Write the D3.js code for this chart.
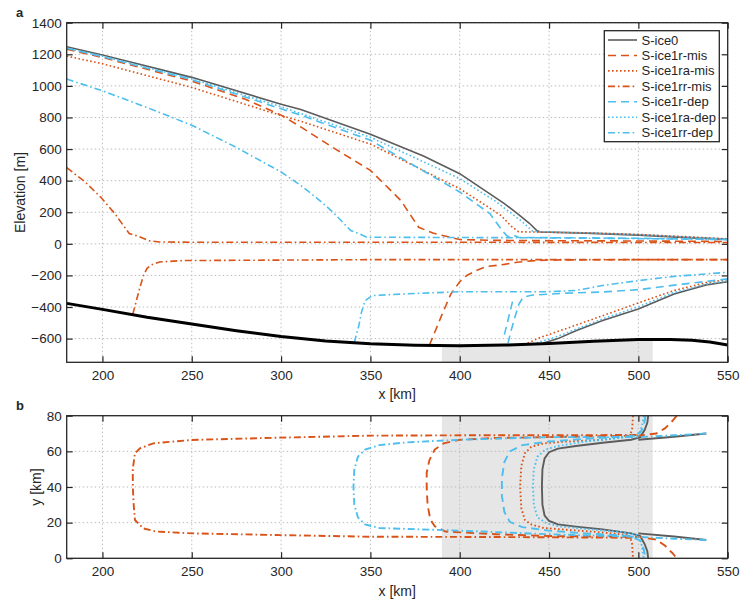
<!DOCTYPE html>
<html><head><meta charset="utf-8">
<script src="https://cdn.jsdelivr.net/npm/d3@7"></script>
<style>body{margin:0;background:#fff} text{font-family:"Liberation Sans",Arial,Helvetica,sans-serif;fill:#262626}</style>
</head><body><svg id="c" width="740" height="603"></svg>
<script>
// ---------- data ----------
const xTicks = [200,250,300,350,400,450,500,550];
const elevTicks = [-600,-400,-200,0,200,400,600,800,1000,1200,1400];
const yTicks = [0,20,40,60,80];
const shadeRange = [390,508];
const seriesNames = ["S-ice0","S-ice1r-mis","S-ice1ra-mis","S-ice1rr-mis","S-ice1r-dep","S-ice1ra-dep","S-ice1rr-dep"];

const bed = [[180,-377],[200,-415],[225,-465],[250,-508],[275,-550],[300,-587],[325,-615],[350,-633],[375,-642],[400,-645],[425,-641],[450,-631],[475,-616],[500,-606],[518,-606],[530,-610],[540,-622],[550,-640]];

// panel a: upper and lower surfaces (x km, elevation m)
const ice0Up = [[180,1248],[200,1195],[250,1054],[300,884],[311,851],[350,694],[380,555],[400,444],[415,330],[425,255],[433,185],[439,130],[443,85],[445,75],[470,68],[500,55],[530,38],[550,28]];
const ice0Lo = [[447,-628],[455,-600],[465,-550],[480,-485],[500,-413],[520,-318],[538,-260],[550,-240]];
const rMisUp = [[180,1232],[200,1180],[250,1030],[280,915],[300,815],[311,740],[330,603],[350,465],[367,275],[377,105],[385,68],[393,46],[400,27],[420,22],[450,20],[500,18],[550,15]];
const rMisLo = [[383,-642],[386,-560],[390,-450],[395,-318],[400,-240],[404,-200],[410,-165],[415,-144],[425,-130],[432,-117],[440,-108],[450,-102],[500,-100],[550,-100]];
const raMisUp = [[180,1189],[200,1140],[250,990],[300,812],[311,776],[350,632],[400,349],[415,240],[423,180],[429,110],[433,76],[470,70],[500,60],[550,32]];
const raMisLo = [[436,-640],[445,-593],[460,-535],[480,-455],[500,-374],[520,-295],[538,-245],[550,-227]];
const rrMisUp = [[180,482],[190,395],[199,296],[207,190],[215,65],[220,48],[226,20],[232,12],[250,10],[400,10],[550,8]];
const rrMisLo = [[217,-445],[219,-360],[221,-275],[223,-200],[225,-155],[228,-130],[232,-115],[245,-106],[350,-100],[550,-100]];
const rDepUp = [[180,1238],[200,1185],[250,1040],[300,855],[311,815],[350,656],[400,328],[417,190],[424,80],[427,45],[430,55],[433,40],[470,38],[500,35],[550,27]];
const rDepLo = [[425,-575],[430,-345],null,[427,-630],[428.5,-560],[431,-460],[433,-385],[435.4,-339],[440,-325],[460,-312],[480,-305],[500,-290],[525,-255],[550,-222]];
const raDepUp = [[180,1240],[200,1188],[250,1045],[300,868],[311,825],[350,675],[400,413],[420,270],[435,140],[441,78],[470,70],[500,58],[550,30]];
const raDepLo = [[443,-628],[455,-585],[480,-475],[500,-398],[520,-308],[538,-255],[550,-235]];
const rrDepUp = [[180,1043],[200,969],[225,863],[250,751],[275,610],[300,455],[311,370],[320,290],[329,201],[339,84],[343,67],[348,42],[400,40],[450,38],[500,33],[550,27]];
const rrDepLo = [[341,-625],[342,-580],[343.5,-519],[345,-434],[347,-360],[351,-328],[367,-318],[400,-303],[450,-303],[465,-295],[482,-260],[500,-233],[520,-206],[550,-180]];

// panel b: grounding lines in plan view (x km, y km)
const ice0Plan = [[505.5,80],[505,76],[503.5,72],[501,68],[496,66.5],[480,64.8],[465,63],[455,61.5],[450,59.5],[447.5,56],[446.3,50],[446,40],[446.3,30],[447.5,24],[450,21],[455,19],[465,17.8],[480,16.2],[496,14],[501,12.5],[503.5,8],[505,4],[505.5,0],null,[500,66.5],[520,68.2],[538,70],null,[500,14],[520,12.2],[538,10.3]];
const rMisPlan = [[521.5,80],[519,77],[515,73],[510,70],[500,68.8],[450,68],[420,67.5],[400,66.5],[391,64.5],[386,61],[383,55],[381.5,48],[381.5,40],[382,30],[383.5,22],[386,18],[392,15],[420,13.5],[450,12.5],[500,12],[510,10.5],[515,7],[519,3],[521.5,0]];
const raMisPlan = [[497,80],[496.5,72],[495,68.5],[480,66.5],[460,65.5],[447,64.5],[440,62.5],[436.5,59],[434.5,52],[433.8,40],[434.5,28],[436.5,21.5],[440,19],[447,17],[460,16],[480,14.5],[495,13],[496.5,8],[497,0]];
const rrMisPlan = [[499,69.2],[450,69],[400,69],[350,68.8],[300,67.7],[250,66.4],[228.5,64.5],[221,61.7],[218.2,58.9],[217,50],[217,40.2],[217.5,30],[218.2,21.5],[222.9,16.8],[230,15],[250,14],[300,13],[350,12.1],[400,12],[450,11.8],[499,11.5]];
const rDepPlan = [[504,80],[503,74],[501,70.5],[495,68.5],[470,67],[450,65.5],[435,63.5],[428,60],[425,54],[423.6,45],[423.6,35],[425,26],[428,20.5],[435,17.5],[450,15.5],[470,14],[495,12.5],[501,10],[503,5],[504,0]];
const raDepPlan = [[503,80],[502,74],[500,69],[490,67.5],[470,65.5],[455,63],[448,61],[443.5,57],[441.5,50],[441,40],[441.5,30],[443.5,23],[448,20],[455,18],[470,16.5],[490,14.8],[500,13],[502,7],[503,0]];
const rrDepPlan = [[538,70],[520,69],[500,68],[450,68],[400,66.5],[370,65],[355,63.5],[347,61],[343,57],[341,50],[340.5,40],[341,30],[343,23],[347,19],[355,17],[370,16.5],[400,15.5],[450,13.5],[500,12],[520,11],[538,10.3]];

// ---------- styles ----------
const GRAY="#5c5c5c", ORANGE="#D95319", BLUE="#4DBEEE";
const DASH="8,5", DOT="1.6,2.4", DASHDOT="7,3,1.6,3";
const styles = [
  {c:GRAY,d:null},{c:ORANGE,d:DASH},{c:ORANGE,d:DOT},{c:ORANGE,d:DASHDOT},
  {c:BLUE,d:DASH},{c:BLUE,d:DOT},{c:BLUE,d:DASHDOT}];
const profA = [[ice0Up,ice0Lo],[rMisUp,rMisLo],[raMisUp,raMisLo],[rrMisUp,rrMisLo],[rDepUp,rDepLo],[raDepUp,raDepLo],[rrDepUp,rrDepLo]];
const planB = [ice0Plan,rMisPlan,raMisPlan,rrMisPlan,rDepPlan,raDepPlan,rrDepPlan];

// ---------- layout ----------
const svg=d3.select('#c');
const L=66.7,R=727.7;
const x=d3.scaleLinear().domain([180,550]).range([L,R]);
const ya=d3.scaleLinear().domain([-750,1400]).range([362.3,22.7]);
const yb=d3.scaleLinear().domain([0,80]).range([558.3,415.7]);
const AX="#262626";
const fmt=d3.format('d');

const defs=svg.append('defs');
function clip(id,x0,y0,w,h){defs.append('clipPath').attr('id',id).append('rect').attr('x',x0).attr('y',y0).attr('width',w).attr('height',h);}
clip('ca',L,ya(1400),R-L,ya(-750)-ya(1400));
clip('cb',L,yb(80),R-L,yb(0)-yb(80));
clip('sh',x(shadeRange[0]),0,x(shadeRange[1])-x(shadeRange[0]),603);

function grid(g,y,yt){
  g.append('g').selectAll('line').data(xTicks).join('line')
   .attr('x1',d=>x(d)).attr('x2',d=>x(d)).attr('y1',y.range()[1]).attr('y2',y.range()[0])
   .attr('stroke','#bdbdbd').attr('stroke-width',1).attr('stroke-dasharray','1.5,2.5');
  g.append('g').selectAll('line').data(yt).join('line')
   .attr('x1',L).attr('x2',R).attr('y1',d=>y(d)).attr('y2',d=>y(d))
   .attr('stroke','#bdbdbd').attr('stroke-width',1).attr('stroke-dasharray','1.5,2.5');
}
function frame(y,yt){
  const top=y.range()[1], bot=y.range()[0];
  const ax1=svg.append('g').attr('transform',`translate(0,${bot})`).call(d3.axisBottom(x).tickValues(xTicks).tickSizeInner(-6).tickSizeOuter(0).tickPadding(8).tickFormat(fmt));
  const ax2=svg.append('g').attr('transform',`translate(0,${top})`).call(d3.axisTop(x).tickValues(xTicks).tickSizeInner(-6).tickSizeOuter(0).tickFormat(''));
  const ay1=svg.append('g').attr('transform',`translate(${L},0)`).call(d3.axisLeft(y).tickValues(yt).tickSizeInner(-6).tickSizeOuter(0).tickPadding(5).tickFormat(fmt));
  const ay2=svg.append('g').attr('transform',`translate(${R},0)`).call(d3.axisRight(y).tickValues(yt).tickSizeInner(-6).tickSizeOuter(0).tickFormat(''));
  [ax1,ax2,ay1,ay2].forEach(a=>{a.select('.domain').remove();a.selectAll('line').attr('stroke',AX).attr('stroke-width',1.2);
    a.selectAll('text').attr('font-size','13.5px').attr('fill',AX).style('font-family','"Liberation Sans",Arial,sans-serif');});
  svg.append('rect').attr('x',L).attr('y',top).attr('width',R-L).attr('height',bot-top).attr('fill','none').attr('stroke',AX).attr('stroke-width',1.3);
}

const lineA=d3.line().defined(d=>d).x(d=>x(d[0])).y(d=>ya(d[1]));
const lineB=d3.line().defined(d=>d).x(d=>x(d[0])).y(d=>yb(d[1]));

// ---- panel a ----
const ga=svg.append('g');
ga.append('path').datum(bed).attr('clip-path','url(#sh)')
  .attr('d',d3.area().x(d=>x(d[0])).y0(ya(-750)).y1(d=>ya(d[1]))).attr('fill','#e6e6e6');
grid(ga,ya,elevTicks);
const pa=ga.append('g').attr('clip-path','url(#ca)');
profA.forEach((pr,i)=>{
  pr.forEach(seg=>{
    pa.append('path').datum(seg).attr('d',lineA).attr('fill','none')
      .attr('stroke',styles[i].c).attr('stroke-width',1.6).attr('stroke-dasharray',styles[i].d);
  });
});
pa.append('path').datum(bed).attr('d',d3.line().x(d=>x(d[0])).y(d=>ya(d[1]))).attr('fill','none').attr('stroke','#000').attr('stroke-width',3);
frame(ya,elevTicks);

// ---- panel b ----
const gb=svg.append('g');
gb.append('rect').attr('x',x(shadeRange[0])).attr('y',yb(80)).attr('width',x(shadeRange[1])-x(shadeRange[0])).attr('height',yb(0)-yb(80)).attr('fill','#e6e6e6');
grid(gb,yb,yTicks);
const pb=gb.append('g').attr('clip-path','url(#cb)');
planB.forEach((seg,i)=>{
  pb.append('path').datum(seg).attr('d',lineB).attr('fill','none')
    .attr('stroke',styles[i].c).attr('stroke-width',1.9).attr('stroke-dasharray',styles[i].d);
});
frame(yb,yTicks);

// ---- legend ----
const lg=svg.append('g');
lg.append('rect').attr('x',604.3).attr('y',30.7).attr('width',115).attr('height',111).attr('fill','#fff').attr('stroke',AX).attr('stroke-width',1.3);
seriesNames.forEach((n,i)=>{
  const yy=40+i*15.45;
  lg.append('line').attr('x1',608).attr('x2',637).attr('y1',yy).attr('y2',yy)
    .attr('stroke',styles[i].c).attr('stroke-width',1.6).attr('stroke-dasharray',styles[i].d);
  lg.append('text').attr('x',641.5).attr('y',yy).attr('dy','0.35em').attr('font-size','13px').text(n);
});

// ---- labels ----
svg.append('text').attr('x',16).attr('y',17).attr('font-size','13px').attr('font-weight','bold').text('a');
svg.append('text').attr('x',16).attr('y',410).attr('font-size','13px').attr('font-weight','bold').text('b');
svg.append('text').attr('transform',`translate(25,${(ya(1400)+ya(-750))/2}) rotate(-90)`).attr('text-anchor','middle').attr('font-size','14px').text('Elevation [m]');
svg.append('text').attr('transform',`translate(41,${(yb(80)+yb(0))/2}) rotate(-90)`).attr('text-anchor','middle').attr('font-size','14px').text('y [km]');
svg.append('text').attr('x',(L+R)/2).attr('y',399).attr('text-anchor','middle').attr('font-size','14px').text('x [km]');
svg.append('text').attr('x',(L+R)/2).attr('y',596).attr('text-anchor','middle').attr('font-size','14px').text('x [km]');
</script></body></html>
